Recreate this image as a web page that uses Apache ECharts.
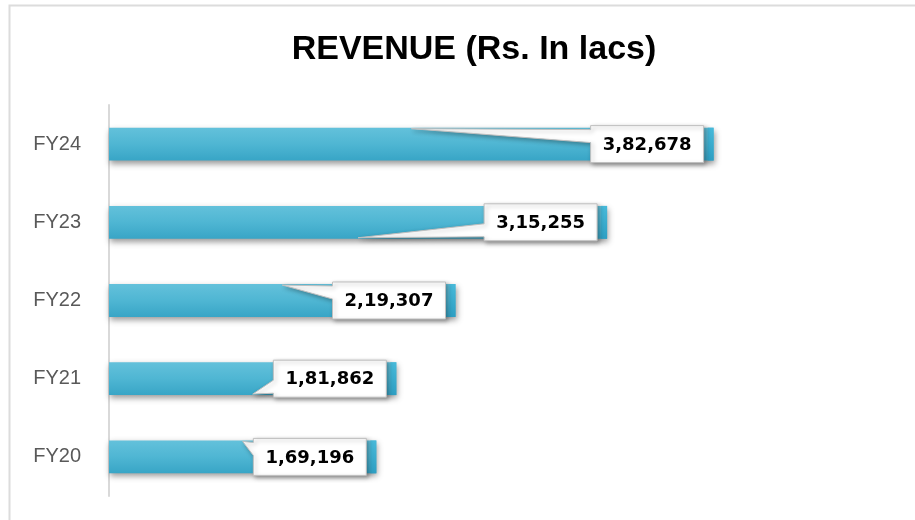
<!DOCTYPE html>
<html>
<head>
<meta charset="utf-8">
<script src="https://cdn.jsdelivr.net/npm/echarts@6/dist/echarts.min.js"></script>
<style>
  html, body { margin: 0; padding: 0; background: #fff; }
  #main { width: 915px; height: 520px; }
</style>
</head>
<body>
<div id="main"></div>
<script>
var categories = ['FY20', 'FY21', 'FY22', 'FY23', 'FY24'];
var revenue = [169196, 181862, 219307, 315255, 382678];

// indian style grouping: 3,82,678
function fmtIndian(n) {
    var s = String(Math.round(n));
    if (s.length <= 3) return s;
    var last = s.slice(-3), rest = s.slice(0, -3);
    rest = rest.replace(/\B(?=(\d{2})+(?!\d))/g, ',');
    return rest + ',' + last;
}

function renderItem(params, api) {
    var idx = api.value(1);
    var val = api.value(0);
    var start = api.coord([0, idx]);
    var end = api.coord([val, idx]);
    var mid = api.coord([val / 2, idx]);
    var h = api.size([0, 1])[1] * 0.42;
    var cy = end[1];
    var top = cy - h / 2, bot = cy + h / 2;

    // callout box
    var R = end[0] - 10, L = R - 113, T = cy - 18.5, B = cy + 18.5;
    var tipX = mid[0];
    var pts;
    if (idx % 2 === 0) {
        pts = [[L, T], [R, T], [R, B], [L, B], [L, T + 17], [tipX, top + 1], [L, T + 4]];
    } else {
        pts = [[L, T], [R, T], [R, B], [L, B], [L, B - 4], [tipX, bot - 1], [L, B - 17]];
    }

    return {
        type: 'group',
        children: [
            {
                type: 'rect',
                shape: { x: start[0], y: top, width: end[0] - start[0], height: h },
                style: {
                    fill: new echarts.graphic.LinearGradient(0, 0, 0, 1, [
                        { offset: 0, color: '#63c1db' },
                        { offset: 0.5, color: '#4fb6d3' },
                        { offset: 1, color: '#38a5c6' }
                    ]),
                    shadowColor: 'rgba(0,0,0,0.4)',
                    shadowBlur: 6,
                    shadowOffsetX: 1,
                    shadowOffsetY: 3
                }
            },
            {
                type: 'rect',
                shape: { x: end[0] - 6, y: top, width: 6, height: h },
                style: {
                    fill: new echarts.graphic.LinearGradient(0, 0, 0, 1, [
                        { offset: 0, color: '#47b9d9' },
                        { offset: 1, color: '#2e9fc3' }
                    ])
                }
            },
            {
                type: 'polygon',
                shape: { points: pts },
                style: {
                    fill: '#ffffff',
                    stroke: '#bfbfbf',
                    lineWidth: 1,
                    shadowColor: 'rgba(0,0,0,0.3)',
                    shadowBlur: 4,
                    shadowOffsetX: 2,
                    shadowOffsetY: 2
                }
            },
            {
                type: 'text',
                style: {
                    text: fmtIndian(val),
                    x: (L + R) / 2,
                    y: cy + 1,
                    align: 'center',
                    verticalAlign: 'middle',
                    fill: '#000000',
                    font: 'bold 18px "DejaVu Sans", sans-serif'
                }
            }
        ]
    };
}

var myChart = echarts.init(document.getElementById('main'));
var option = {
    backgroundColor: '#ffffff',
    animation: false,
    title: {
        text: 'REVENUE (Rs. In lacs)',
        left: 469,
        top: 28,
        textAlign: 'center',
        textStyle: {
            color: '#000000',
            fontWeight: 'bold',
            fontSize: 34,
            fontFamily: '"Liberation Sans", Arial, sans-serif'
        }
    },
    graphic: [
        {
            type: 'polyline',
            shape: { points: [[9.5, 520], [9.5, 5.5], [915, 5.5]] },
            style: { stroke: '#dcdcdc', lineWidth: 2, fill: null }
        }
    ],
    grid: {
        left: 109,
        top: 105,
        width: 790,
        height: 391,
        containLabel: false
    },
    xAxis: {
        type: 'value',
        min: 0,
        max: 500000,
        show: false,
        splitLine: { show: false }
    },
    yAxis: {
        type: 'category',
        data: categories,
        axisTick: { show: false },
        axisLine: { lineStyle: { color: '#d9d9d9', width: 2 } },
        axisLabel: {
            color: '#595959',
            fontSize: 20,
            fontFamily: '"Liberation Sans", Arial, sans-serif',
            margin: 28
        }
    },
    series: [
        {
            type: 'custom',
            renderItem: renderItem,
            encode: { x: 0, y: 1 },
            data: revenue.map(function (v, i) { return [v, i]; })
        }
    ]
};
myChart.setOption(option);
</script>
</body>
</html>
